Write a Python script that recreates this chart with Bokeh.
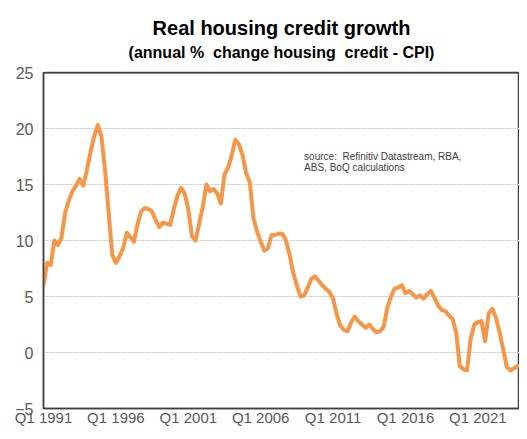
from bokeh.plotting import figure
from bokeh.models import FixedTicker, Label, Range1d, Title, Span
from bokeh.embed import file_html
from bokeh.resources import INLINE

# ---- data (quarterly, Q1 1991 onwards) ----
start_year = 1991
real_credit_growth = [
    6.0, 8.0, 7.8, 10.0, 9.6, 10.3, 12.5, 13.6, 14.4, 14.9,
    15.5, 14.9, 16.3, 17.9, 19.3, 20.3, 19.3, 16.3, 12.5, 8.7,
    8.0, 8.6, 9.3, 10.7, 10.3, 9.9, 11.5, 12.6, 12.9, 12.8,
    12.6, 11.8, 11.2, 11.6, 11.5, 11.4, 12.8, 14.0, 14.7, 14.2,
    12.8, 10.4, 10.0, 11.5, 13.0, 15.0, 14.4, 14.6, 14.2, 13.3,
    15.9, 16.5, 17.6, 19.0, 18.6, 17.6, 16.0, 15.2, 12.0, 10.8,
    9.9, 9.1, 9.3, 10.5, 10.5, 10.6, 10.6, 10.0, 8.7, 7.1,
    6.0, 5.0, 5.1, 5.8, 6.6, 6.8, 6.4, 6.0, 5.7, 5.4,
    4.8, 3.4, 2.4, 2.0, 1.9, 2.7, 3.2, 2.8, 2.5, 2.2,
    2.5, 2.1, 1.8, 1.9, 2.3, 4.0, 5.0, 5.7, 5.8, 6.0,
    5.3, 5.5, 5.2, 4.9, 5.1, 4.8, 5.2, 5.5, 4.9, 4.2,
    3.8, 3.7, 3.3, 3.0, 1.8, -1.2, -1.5, -1.6, 1.2, 2.5,
    2.7, 2.8, 1.0, 3.5, 3.9, 3.1, 1.8, 0.3, -1.3, -1.6,
    -1.4, -1.2,
]
quarters = [f"Q{i % 4 + 1} {start_year + i // 4}" for i in range(len(real_credit_growth))]
x_tick_labels = ["Q1 1991", "Q1 1996", "Q1 2001", "Q1 2006", "Q1 2011", "Q1 2016", "Q1 2021"]
y_ticks = [-5, 0, 5, 10, 15, 20, 25]

title_text = "Real housing credit growth"
subtitle_text = "(annual %\u00a0 change housing\u00a0 credit - CPI)"
source_lines = ["source:\u00a0 Refinitiv Datastream, RBA,", "ABS, BoQ calculations"]

x_idx = list(range(len(real_credit_growth)))
x_tick_pos = [quarters.index(l) for l in x_tick_labels]

FONT = "Liberation Sans"
TICK_COLOR = "#595959"

x_range = Range1d(0, len(real_credit_growth) - 0.5)
y_range = Range1d(min(y_ticks), max(y_ticks))

p = figure(width=519, height=428, output_backend="svg", toolbar_location=None,
           title=None, x_range=x_range, y_range=y_range,
           min_border_left=43, min_border_right=0, min_border_top=72,
           min_border_bottom=10)
# plot-area frame (top border as in the reference)
p.outline_line_color = "#404040"
p.outline_line_width = 1.5
p.background_fill_color = "white"
p.border_fill_color = "white"

# axes
for ax in (p.xaxis[0], p.yaxis[0]):
    ax.axis_line_color = "#404040"
    ax.axis_line_width = 1.5
    ax.major_tick_line_color = None
    ax.minor_tick_line_color = None
    ax.major_tick_out = 0
    ax.minor_tick_out = 0
    ax.major_label_text_font = FONT
    ax.major_label_text_color = TICK_COLOR

p.xaxis.ticker = FixedTicker(ticks=x_tick_pos)
p.xaxis.major_label_overrides = {pos: lab for pos, lab in zip(x_tick_pos, x_tick_labels)}
p.xaxis.major_label_standoff = 0
p.xaxis.major_label_text_font_size = "15px"
p.yaxis.ticker = FixedTicker(ticks=y_ticks)
p.yaxis.major_label_standoff = 10
p.yaxis.major_label_text_font_size = "16px"

p.xgrid.visible = False
p.ygrid.grid_line_color = "#c8c8c8"
p.ygrid.grid_line_dash = "2 1"
p.ygrid.grid_line_width = 1

# top border line of the plot area
p.add_layout(Span(location=max(y_ticks), dimension="width", line_color="#404040",
                  line_width=2))

# blank spacer between plot area and subtitle (white text on white)
spacer = Title(text=".", text_color="white", text_font=FONT, text_font_size="10px",
               standoff=2)
p.add_layout(spacer, "above")
sub = Title(text=subtitle_text, align="center", text_font=FONT, text_font_size="16px",
            text_font_style="bold", text_color="black", standoff=0)
p.add_layout(sub, "above")
main = Title(text=title_text, align="center", text_font=FONT, text_font_size="20px",
             text_font_style="bold", text_color="black", standoff=5)
p.add_layout(main, "above")

p.line(x_idx, real_credit_growth, line_color="#F79646", line_width=4, line_join="round",
       line_cap="round")

p.add_layout(Label(x=72, y=18.0, text=source_lines[0], text_font=FONT, text_font_size="10px",
                   text_color="#404040", text_baseline="top"))
p.add_layout(Label(x=72, y=17.0, text=source_lines[1], text_font=FONT, text_font_size="10px",
                   text_color="#404040", text_baseline="top"))

open("out.html", "w").write(file_html(p, INLINE))
